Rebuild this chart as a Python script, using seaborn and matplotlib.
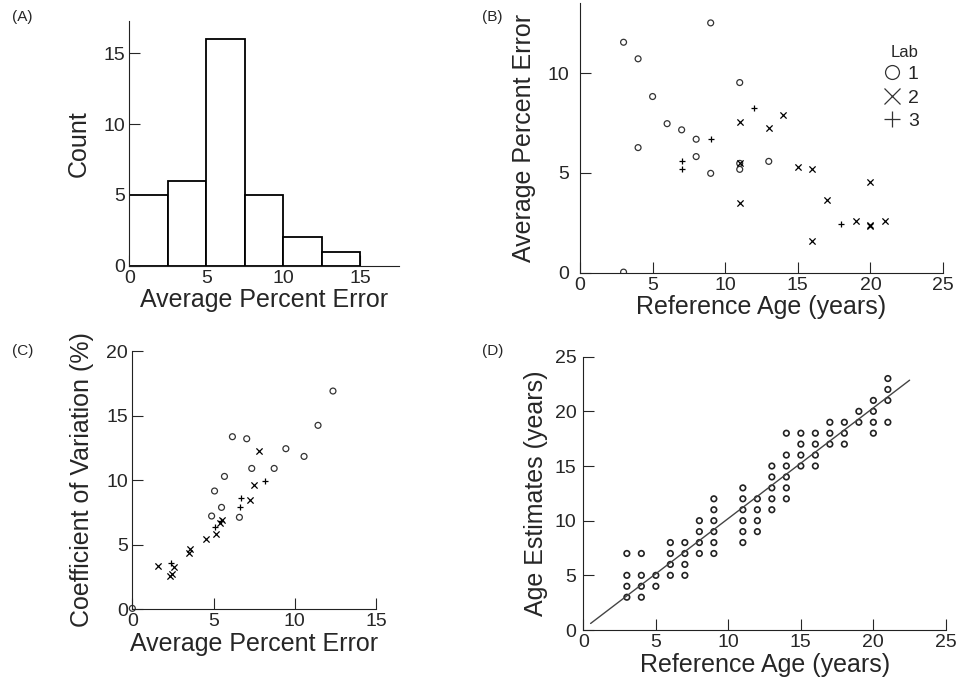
import numpy as np
import pandas as pd
import matplotlib
matplotlib.use("Agg")
import matplotlib.pyplot as plt
import seaborn as sns
from matplotlib.lines import Line2D

# (A) histogram of average percent error
hist_edges = [0, 2.5, 5, 7.5, 10, 12.5, 15]
hist_counts = [5, 6, 16, 5, 2, 1]

# (B) average percent error vs reference age, by lab
b_lab1_age = [3, 4, 9, 11, 5, 6, 7, 8, 4, 8, 9, 11, 11, 13, 3]
b_lab1_ape = [11.55, 10.72, 12.52, 9.53, 8.83, 7.47, 7.16, 6.69, 6.27, 5.82, 4.98, 5.18, 5.48, 5.58, 0.03]
b_lab2_age = [11, 13, 14, 11, 15, 16, 11, 20, 17, 19, 20, 21, 16, 20]
b_lab2_ape = [7.56, 7.27, 7.89, 5.48, 5.28, 5.18, 3.51, 4.53, 3.65, 2.61, 2.34, 2.61, 1.59, 2.40]
b_lab3_age = [12, 9, 7, 7, 18]
b_lab3_ape = [8.23, 6.69, 5.58, 5.18, 2.44]

# (C) coefficient of variation vs average percent error, by lab
c_lab1_ape = [12.35, 11.43, 10.57, 9.45, 8.73, 7.35, 6.16, 7.04, 5.67, 5.06, 5.49, 4.88, 6.59, 0.0]
c_lab1_cv = [16.9, 14.24, 11.83, 12.43, 10.9, 10.9, 13.36, 13.2, 10.28, 9.15, 7.88, 7.21, 7.11, 0.05]
c_lab2_ape = [7.82, 7.51, 7.22, 5.16, 4.51, 3.57, 3.47, 1.55, 2.55, 2.31, 2.45, 5.37, 5.49]
c_lab2_cv = [12.27, 9.61, 8.42, 5.84, 5.43, 4.63, 4.32, 3.31, 3.26, 2.56, 2.69, 6.64, 6.9]
c_lab3_ape = [8.18, 6.71, 6.63, 5.10, 5.47, 2.41]
c_lab3_cv = [9.95, 8.58, 7.88, 6.38, 6.85, 3.54]

# (D) age estimates for each reference age
d_ages = [3, 4, 5, 6, 7, 8, 9, 11, 12, 13, 14, 15, 16, 17, 18, 19, 20, 21]
d_estimates = [
    [3, 4, 5, 7], [3, 4, 5, 7], [4, 5], [5, 6, 7, 8], [5, 6, 7, 8],
    [7, 8, 9, 10], [7, 8, 9, 10, 11, 12], [8, 9, 10, 11, 12, 13],
    [9, 10, 11, 12], [11, 12, 13, 14, 15], [12, 13, 14, 15, 16, 18],
    [15, 16, 17, 18], [15, 16, 17, 18], [17, 18, 19], [17, 18, 19],
    [19, 20], [18, 19, 20, 21], [19, 21, 22, 23],
]
d_line_x = [0.5, 22.5]
d_line_y = [0.6, 22.85]

sns.set_style("ticks")
plt.rcParams['font.family'] = ['Liberation Sans', 'DejaVu Sans']
plt.rcParams['xtick.direction'] = 'in'
plt.rcParams['ytick.direction'] = 'in'
plt.rcParams['xtick.major.size'] = 8
plt.rcParams['ytick.major.size'] = 8
plt.rcParams['xtick.labelsize'] = 14
plt.rcParams['ytick.labelsize'] = 14
plt.rcParams['axes.labelsize'] = 18
plt.rcParams['axes.edgecolor'] = '#222222'

fig = plt.figure(figsize=(9.59, 6.95), dpi=100)
axA = fig.add_axes([0.1348, 0.6177, 0.2812, 0.3525])
axB = fig.add_axes([0.6048, 0.6076, 0.3785, 0.3876])
axC = fig.add_axes([0.138, 0.1237, 0.2541, 0.3712])
axD = fig.add_axes([0.6083, 0.0935, 0.378, 0.3933])

# --- (A)
centers = [(hist_edges[i] + hist_edges[i + 1]) / 2 for i in range(len(hist_counts))]
sns.histplot(x=centers, weights=hist_counts, bins=hist_edges, ax=axA,
             color='white', edgecolor='black', linewidth=1.3, alpha=1)
axA.set_xlim(0, 17.5)
axA.set_ylim(0, 17.3)
axA.set_xticks([0, 5, 10, 15])
axA.set_yticks([0, 5, 10, 15])
axA.set_xlabel("Average Percent Error", labelpad=1)
axA.set_ylabel("Count", labelpad=9)

# --- (B)
mk = dict(color='black', s=20, linewidth=0.9)
sns.scatterplot(x=b_lab1_age, y=b_lab1_ape, ax=axB, marker='o', facecolor='none',
                edgecolor='#333333', s=18, linewidth=0.9)
sns.scatterplot(x=b_lab2_age, y=b_lab2_ape, ax=axB, marker='x', **mk)
sns.scatterplot(x=b_lab3_age, y=b_lab3_ape, ax=axB, marker='+', **mk)
axB.set_xlim(0, 25)
axB.set_ylim(0, 13.5)
axB.set_xticks([0, 5, 10, 15, 20, 25])
axB.set_yticks([0, 5, 10])
axB.set_xlabel("Reference Age (years)", labelpad=1)
axB.set_ylabel("Average Percent Error", labelpad=8)
handles = [
    Line2D([], [], marker='o', ls='none', mfc='none', mec='#333333', ms=10, mew=0.9),
    Line2D([], [], marker='x', ls='none', color='#333333', ms=12, mew=0.9),
    Line2D([], [], marker='+', ls='none', color='#333333', ms=12, mew=0.9),
]
axB.legend(handles, ['1', '2', '3'], title='Lab', frameon=False, loc='upper right',
           bbox_to_anchor=(0.955, 0.875), fontsize=14, title_fontsize=12,
           alignment='right', handletextpad=0.2, labelspacing=0.3,
           borderaxespad=0.0, handlelength=1.2)

# --- (C)
sns.scatterplot(x=c_lab1_ape, y=c_lab1_cv, ax=axC, marker='o', facecolor='none',
                edgecolor='#333333', s=18, linewidth=0.9, clip_on=False)
sns.scatterplot(x=c_lab2_ape, y=c_lab2_cv, ax=axC, marker='x', **mk)
sns.scatterplot(x=c_lab3_ape, y=c_lab3_cv, ax=axC, marker='+', **mk)
axC.set_xlim(0, 15)
axC.set_ylim(0, 20)
axC.set_xticks([0, 5, 10, 15])
axC.set_yticks([0, 5, 10, 15, 20])
axC.set_xlabel("Average Percent Error", labelpad=1)
axC.set_ylabel("Coefficient of Variation (%)", labelpad=9)

# --- (D)
d_df = pd.DataFrame({
    'ref': [a for a, ests in zip(d_ages, d_estimates) for _ in ests],
    'est': [e for ests in d_estimates for e in ests],
})
sns.lineplot(x=d_line_x, y=d_line_y, ax=axD, color='#444444', linewidth=1)
sns.scatterplot(data=d_df, x='ref', y='est', ax=axD, marker='o', facecolor='none',
                edgecolor='#222222', s=16, linewidth=1.2)
axD.set_xlim(0, 25)
axD.set_ylim(0, 25)
axD.set_xticks([0, 5, 10, 15, 20, 25])
axD.set_yticks([0, 5, 10, 15, 20, 25])
axD.set_xlabel("Reference Age (years)", labelpad=1)
axD.set_ylabel("Age Estimates (years)", labelpad=5)

for ax in (axA, axB, axC, axD):
    sns.despine(ax=ax)
    ax.tick_params(pad=3)
axB.tick_params(axis='y', pad=8)
axD.tick_params(axis='y', pad=5)

for lbl, (x, y) in zip(["(A)", "(B)", "(C)", "(D)"],
                       [(0.012, 0.985), (0.503, 0.985), (0.012, 0.505), (0.503, 0.505)]):
    fig.text(x, y, lbl, fontsize=11, va='top', ha='left')

fig.savefig("out.png", dpi=100)
